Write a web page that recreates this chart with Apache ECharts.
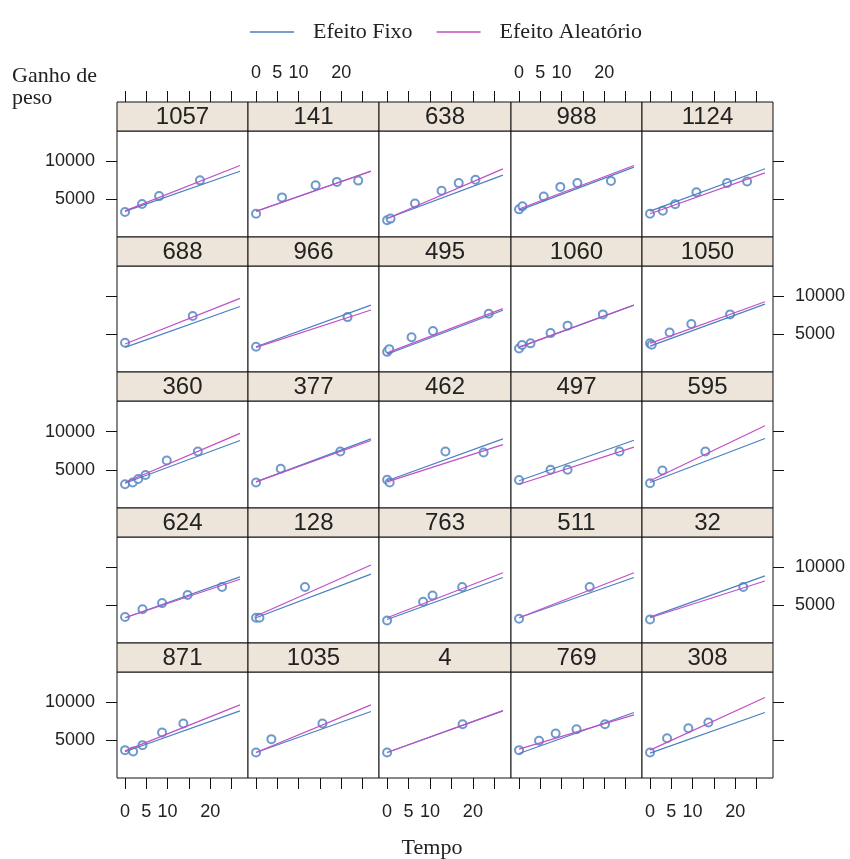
<!DOCTYPE html>
<html><head><meta charset="utf-8">
<script src="https://cdn.jsdelivr.net/npm/echarts@6/dist/echarts.min.js"></script>
<style>html,body{margin:0;padding:0;background:#fff}#c{width:850px;height:859px}</style>
</head><body><div id="c"></div>
<script>
// ---- data ----
const ids = ['1057','141','638','988','1124',
             '688','966','495','1060','1050',
             '360','377','462','497','595',
             '624','128','763','511','32',
             '871','1035','4','769','308'];
const tempo = [
  [0,4,8,17.6],[0,6.1,14,19,24],[0,0.8,6.5,12.7,16.7,20.6],[0,0.8,5.8,9.7,13.7,21.6],[0,3,5.9,10.9,18.1,22.8],
  [0,15.9],[0,21.5],[0,0.5,5.7,10.7,23.7],[0,0.7,2.7,7.4,11.4,19.7],[0,0.4,4.6,9.7,18.8],
  [0,1.8,3.1,4.8,9.8,17.1],[0,5.8,19.8],[0,0.6,13.6,22.5],[0,7.4,11.4,23.6],[0,2.9,13],
  [0,4.1,8.7,14.7,22.8],[0,0.8,11.5],[0,8.4,10.6,17.5],[0,16.6],[0,21.9],
  [0,1.9,4.1,8.7,13.7],[0,3.6,15.6],[0,17.6],[0,4.7,8.6,13.5,20.2],[0,4.0,9.0,13.7]
];
const ganho = [
  [3300,4350,5400,7480],[3080,5230,6830,7280,7450],[2220,2430,4420,6100,7120,7560],[3650,4050,5360,6620,7120,7390],[3070,3470,4320,5900,7120,7340],
  [3875,7385],[3335,7250],[2660,3020,4595,5405,7700],[3110,3560,3785,5135,6125,7610],[3785,3605,5225,6350,7610],
  [3110,3335,3785,4325,6215,7385],[3335,5135,7385],[3695,3335,7385,7250],[3650,5000,5000,7385],[3245,4910,7385],
  [3425,4460,5270,6350,7385],[3335,3335,7385],[2975,5450,6260,7385],[3200,7385],[3110,7385],
  [3680,3500,4340,6010,7200],[3370,5130,7200],[3370,7110],[3680,4910,5880,6450,7110],[3370,5260,6580,7330]
];
const fixoIni  = [3380,3400,2440,3510,3420, 3245,3335,2345,3245,3425, 3245,3425,3560,3560,3335, 3335,3335,3110,3335,3425, 3460,3370,3370,3240,3280];
const fixoFim  = [8680,8690,8170,9230,9010, 8645,8825,8150,8825,8960, 8825,9050,9050,8870,9095, 8735,9095,8645,8645,8870, 8870,8780,8870,8650,8650];
const aleatIni = [3450,3380,2450,3700,3070, 3695,3245,2525,3290,3785, 3335,3425,3425,3110,3560, 3335,3560,3335,3335,3335, 3590,3370,3370,3810,3680];
const aleatFim = [9450,8700,9000,9450,8470, 9725,8195,8375,8850,9275, 9770,8825,8285,7970,10760, 8420,10310,9275,9275,8195, 9660,9660,8900,8340,10630];
const retaTempo = [0, 27];
const xTicks = [0,5,10,15,20,25];
const xLabels = [0,5,10,20];
const yTicks = [5000,10000];
const legendNames = ['Efeito Fixo','Efeito Aleatório'];

// ---- layout / style ----
const BLUE = '#4a80c0', MAG = '#c24fc6';
const L0 = 117, T0 = 102, PW = 131.2, PH = 135.2, SH = 29;
const SANS = '"Liberation Sans", Arial, sans-serif';
const SERIF = '"Liberation Serif", "Times New Roman", serif';

const grids = [], xAxes = [], yAxes = [], series = [], graphics = [];
for (let i = 0; i < ids.length; i++) {
  const r = Math.floor(i / 5), c = i % 5;
  const x1 = Math.round(L0 + c * PW), x2 = Math.round(L0 + (c + 1) * PW);
  const y1 = Math.round(T0 + r * PH), y2 = Math.round(T0 + (r + 1) * PH);
  grids.push({left: x1, top: y1 + SH, width: x2 - x1, height: y2 - y1 - SH,
    show: true, borderColor: '#111', borderWidth: 1, backgroundColor: '#fff'});
  graphics.push({type: 'rect', shape: {x: x1, y: y1, width: x2 - x1, height: SH},
    style: {fill: '#ede4da', stroke: '#111', lineWidth: 1}, z: 10});
  graphics.push({type: 'text', x: (x1 + x2) / 2, y: y1 + SH / 2 + 1,
    style: {text: ids[i], textAlign: 'center', textVerticalAlign: 'middle',
      font: '24px ' + SANS, fill: '#222'}, z: 11});
  const showXT = (r === 0 || r === 4);
  const showXL = (r === 0 && c % 2 === 1) || (r === 4 && c % 2 === 0);
  xAxes.push({gridIndex: i, type: 'value', min: -1.89, max: 28.89,
    position: r === 0 ? 'top' : 'bottom', offset: r === 0 ? SH : 0,
    axisLine: {show: false, onZero: false}, splitLine: {show: false},
    axisTick: {show: showXT, customValues: xTicks, length: 11, lineStyle: {color: '#111', width: 1}},
    axisLabel: {show: showXL, customValues: xLabels, margin: r === 0 ? 20 : 25,
      formatter: v => String(v), fontSize: 18, fontFamily: SANS, color: '#222'}});
  const showYT = (c === 0 || c === 4);
  const showYL = (c === 0 && r % 2 === 0) || (c === 4 && r % 2 === 1);
  yAxes.push({gridIndex: i, type: 'value', min: 0, max: 14000,
    position: c === 4 ? 'right' : 'left',
    axisLine: {show: false, onZero: false}, splitLine: {show: false},
    axisTick: {show: showYT, customValues: yTicks, length: 11, lineStyle: {color: '#111', width: 1}},
    axisLabel: {show: showYL, customValues: yTicks, margin: 22,
      formatter: v => String(v), fontSize: 18, fontFamily: SANS, color: '#222'}});
  series.push({type: 'scatter', xAxisIndex: i, yAxisIndex: i,
    data: tempo[i].map((t, k) => [t, ganho[i][k]]),
    symbol: 'emptyCircle', symbolSize: 8,
    itemStyle: {color: BLUE, borderColor: BLUE, borderWidth: 1}, z: 3, silent: true});
  series.push({type: 'line', name: legendNames[0], xAxisIndex: i, yAxisIndex: i,
    data: [[retaTempo[0], fixoIni[i]], [retaTempo[1], fixoFim[i]]],
    symbol: 'none', lineStyle: {color: BLUE, width: 1.2}, itemStyle: {color: BLUE}, z: 4, silent: true});
  series.push({type: 'line', name: legendNames[1], xAxisIndex: i, yAxisIndex: i,
    data: [[retaTempo[0], aleatIni[i]], [retaTempo[1], aleatFim[i]]],
    symbol: 'none', lineStyle: {color: MAG, width: 1.2}, itemStyle: {color: MAG}, z: 4, silent: true});
}
graphics.push({type: 'text', x: 12, y: 76,
  style: {text: 'Ganho de', textVerticalAlign: 'middle', font: '22px ' + SERIF, fill: '#222'}});
graphics.push({type: 'text', x: 12, y: 98,
  style: {text: 'peso', textVerticalAlign: 'middle', font: '22px ' + SERIF, fill: '#222'}});
graphics.push({type: 'text', x: 432, y: 848,
  style: {text: 'Tempo', textAlign: 'center', textVerticalAlign: 'middle', font: '22px ' + SERIF, fill: '#222'}});

const chart = echarts.init(document.getElementById('c'), null, {renderer: 'canvas'});
chart.setOption({
  animation: false,
  backgroundColor: '#fff',
  legend: {data: legendNames, left: 245, top: 16, icon: 'rect', itemWidth: 44, itemHeight: 1.5,
    itemGap: 24, selectedMode: false,
    textStyle: {fontFamily: SERIF, fontSize: 22, color: '#222', padding: [0, 0, 0, 14]}},
  grid: grids, xAxis: xAxes, yAxis: yAxes, series: series, graphic: graphics
});
</script></body></html>
